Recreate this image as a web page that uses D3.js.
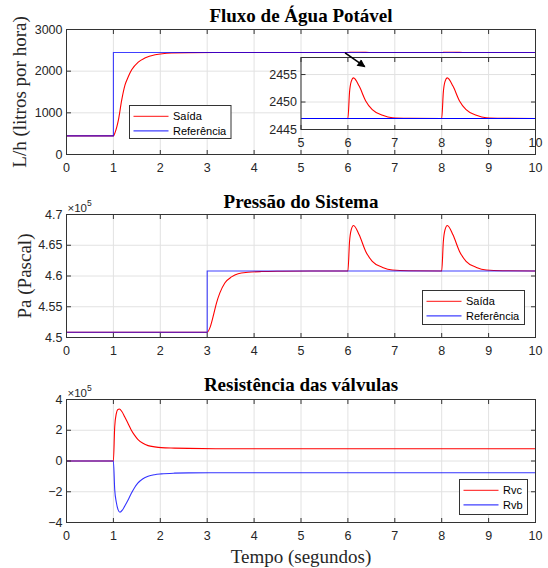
<!DOCTYPE html>
<html>
<head>
<meta charset="utf-8">
<script src="https://cdn.jsdelivr.net/npm/d3@7"></script>
<style>
    body { margin: 0; background: #fff; }
    svg { display: block; }
</style>
</head>
<body>
<svg id="chart" width="548" height="568"></svg>
<script>
// shared time axis
const timeTicks = [0, 1, 2, 3, 4, 5, 6, 7, 8, 9, 10];

// Fluxo de Água Potável (L/h)
const flowTicks = [0, 1000, 2000, 3000];
const flowRefT = [0, 1, 1, 10];
const flowRefV = [447, 447, 2447, 2447];
const flowOutT = [0, 1, 1.035, 1.106, 1.177, 1.248, 1.319, 1.39, 1.53, 1.67, 1.89, 2.24, 2.6, 3.2,
    6, 6.035, 6.07, 6.12, 6.24, 6.38, 6.52, 6.74, 6.95, 7.3,
    8, 8.035, 8.07, 8.12, 8.24, 8.38, 8.52, 8.74, 8.95, 9.3, 10];
const flowOutV = [447, 447, 525, 823, 1306, 1669, 1871, 2032, 2218, 2315, 2395, 2437, 2445, 2447,
    2447, 2451.8, 2453.7, 2454.4, 2452.9, 2450.2, 2448.6, 2447.6, 2447.15, 2447.05,
    2447, 2451.8, 2453.7, 2454.4, 2452.9, 2450.2, 2448.6, 2447.6, 2447.15, 2447.05, 2447];

// zoom inset
const insetTimeTicks = [5, 6, 7, 8, 9, 10];
const insetFlowTicks = [2445, 2450, 2455];

// Pressão do Sistema (x1e5 Pa)
const pressTicks = [4.5, 4.55, 4.6, 4.65, 4.7];
const pressRefT = [0, 3, 3, 10];
const pressRefV = [4.5086, 4.5086, 4.6082, 4.6082];
const pressOutT = [0, 3, 3.057, 3.128, 3.199, 3.27, 3.376, 3.518, 3.66, 3.87, 4.16, 4.6, 5.2, 6,
    6.035, 6.07, 6.12, 6.24, 6.38, 6.52, 6.74, 6.95, 7.3, 8,
    8.035, 8.07, 8.12, 8.24, 8.38, 8.52, 8.74, 8.95, 9.3, 10];
const pressOutV = [4.5086, 4.5086, 4.5157, 4.5346, 4.5563, 4.5725, 4.5887, 4.5985, 4.6038, 4.6060, 4.6072, 4.6078, 4.6082, 4.6082,
    4.656, 4.675, 4.6822, 4.667, 4.640, 4.6238, 4.614, 4.6098, 4.6086, 4.6082,
    4.656, 4.675, 4.6822, 4.667, 4.640, 4.6238, 4.614, 4.6098, 4.6086, 4.6082];

// Resistência das válvulas (x1e5)
const resTicks = [-4, -2, 0, 2, 4];
const rvcT = [0, 1, 1.028, 1.063, 1.095, 1.126, 1.18, 1.24, 1.31, 1.38, 1.45, 1.52, 1.63, 1.74, 1.88, 2.02, 2.3, 2.6, 3.4, 10];
const rvcV = [0, 0, 2.23, 3.10, 3.35, 3.38, 3.22, 2.88, 2.45, 2.02, 1.68, 1.41, 1.15, 1.00, 0.92, 0.87, 0.84, 0.82, 0.80, 0.80];
const rvbT = [0, 1, 1.028, 1.063, 1.099, 1.14, 1.19, 1.24, 1.31, 1.38, 1.45, 1.52, 1.63, 1.74, 1.88, 2.02, 2.3, 2.6, 3.4, 10];
const rvbV = [0, 0, -1.86, -2.7, -3.16, -3.33, -3.2, -2.94, -2.55, -2.12, -1.74, -1.44, -1.15, -0.99, -0.89, -0.84, -0.79, -0.77, -0.76, -0.76];

const SANS = "'Liberation Sans', Arial, Helvetica, sans-serif";
const SERIF = "'Liberation Serif', 'Times New Roman', serif";
const AXIS = "#333";
const RED = "#ff0000", BLUE = "#0000ff";

const svg = d3.select("#chart");
svg.append("rect").attr("width", 548).attr("height", 568).attr("fill", "#fff");

const zip = (ts, vs) => ts.map((t, i) => [t, vs[i]]);
const fmtInt = d3.format("d");
let clipId = 0;

function frame(g, x, y, xTicks, yTicks, yFmt, series) {
    const [x0, x1] = x.range();
    const [yb, yt] = y.range();

    g.append("rect")
        .attr("x", x0).attr("y", yt)
        .attr("width", x1 - x0).attr("height", yb - yt)
        .attr("fill", "#fff");

    // grid
    const gx = g.append("g")
        .attr("transform", `translate(0,${yb})`)
        .call(d3.axisBottom(x).tickValues(xTicks).tickSize(-(yb - yt)).tickFormat("").offset(0));
    const gy = g.append("g")
        .attr("transform", `translate(${x0},0)`)
        .call(d3.axisLeft(y).tickValues(yTicks).tickSize(-(x1 - x0)).tickFormat("").offset(0));
    [gx, gy].forEach(a => {
        a.select(".domain").remove();
        a.selectAll("line").attr("stroke", "#e2e2e2");
    });

    const id = "clip" + (clipId++);
    g.append("clipPath").attr("id", id)
        .append("rect")
            .attr("x", x0).attr("y", yt)
            .attr("width", x1 - x0).attr("height", yb - yt);

    const lines = g.append("g").attr("clip-path", `url(#${id})`);
    series.forEach(s => {
        lines.append("path")
            .attr("d", d3.line()
                .x(d => x(d[0]))
                .y(d => y(d[1]))
                .curve(s.step ? d3.curveLinear : d3.curveMonotoneX)(s.data))
            .attr("fill", "none")
            .attr("stroke", s.color)
            .attr("stroke-opacity", s.opacity || 1)
            .attr("stroke-width", 1.1);
    });

    const axes = [
        g.append("g").attr("transform", `translate(0,${yb})`)
            .call(d3.axisBottom(x).tickValues(xTicks).tickSize(-4.5).tickPadding(9).tickFormat(fmtInt).offset(0)),
        g.append("g").attr("transform", `translate(0,${yt})`)
            .call(d3.axisTop(x).tickValues(xTicks).tickSize(-4.5).tickFormat("").offset(0)),
        g.append("g").attr("transform", `translate(${x0},0)`)
            .call(d3.axisLeft(y).tickValues(yTicks).tickSize(-4.5).tickPadding(4).tickFormat(yFmt).offset(0)),
        g.append("g").attr("transform", `translate(${x1},0)`)
            .call(d3.axisRight(y).tickValues(yTicks).tickSize(-4.5).tickFormat("").offset(0)),
    ];
    axes.forEach(a => {
        a.select(".domain").remove();
        a.attr("font-family", SANS).attr("font-size", 12.5);
        a.selectAll("line").attr("stroke", AXIS);
        a.selectAll("text").attr("fill", "#262626");
    });

    g.append("rect")
        .attr("x", x0).attr("y", yt)
        .attr("width", x1 - x0).attr("height", yb - yt)
        .attr("fill", "none")
        .attr("stroke", AXIS);
}

function title(text, x, y) {
    svg.append("text")
        .attr("x", x).attr("y", y)
        .attr("text-anchor", "middle")
        .attr("font-family", SERIF)
        .attr("font-weight", "bold")
        .attr("font-size", 19)
        .attr("fill", "#000")
        .text(text);
}

function ylabel(text, x, y) {
    svg.append("text")
        .attr("transform", `translate(${x},${y}) rotate(-90)`)
        .attr("text-anchor", "middle")
        .attr("font-family", SERIF)
        .attr("font-size", 19)
        .attr("fill", "#262626")
        .text(text);
}

function exponent(x, y) {
    const t = svg.append("text")
        .attr("x", x).attr("y", y)
        .attr("font-family", SANS)
        .attr("font-size", 11.5)
        .attr("fill", "#262626");
    t.append("tspan").text("×10");
    t.append("tspan").attr("dy", -6.5).attr("font-size", 8.5).text("5");
}

function legend(box, items) {
    const lg = svg.append("g").attr("transform", `translate(${box.x},${box.y})`);
    lg.append("rect")
        .attr("width", box.w).attr("height", box.h)
        .attr("fill", "#fff")
        .attr("stroke", AXIS);
    items.forEach((it, i) => {
        const cy = 10.8 + i * 14.6;
        lg.append("line")
            .attr("x1", 4).attr("x2", 39)
            .attr("y1", cy).attr("y2", cy)
            .attr("stroke", it.color)
            .attr("stroke-opacity", 0.75)
            .attr("stroke-width", 1.3);
        lg.append("text")
            .attr("x", 43.5).attr("y", cy)
            .attr("dy", "0.35em")
            .attr("font-family", SANS)
            .attr("font-size", 11)
            .attr("fill", "#000")
            .text(it.label);
    });
}

const left = 66.5, right = 535.5;
const x = d3.scaleLinear().domain([0, 10]).range([left, right]);

// --- panel 1
const g1 = svg.append("g");
const y1 = d3.scaleLinear().domain([0, 3000]).range([154.5, 29.5]);
frame(g1, x, y1, timeTicks, flowTicks, fmtInt, [
    { data: zip(flowOutT, flowOutV), color: RED },
    { data: zip(flowRefT, flowRefV), color: BLUE, step: true, opacity: 0.75 },
]);
title("Fluxo de Água Potável", (left + right) / 2, 22);
ylabel("L/h (litros por hora)", 26, 92);
legend({ x: 129.5, y: 105.5, w: 101.5, h: 33 }, [
    { label: "Saída", color: RED },
    { label: "Referência", color: BLUE },
]);

// inset
const gi = svg.append("g");
const xi = d3.scaleLinear().domain([5, 10]).range([x(5), right]);
const yi = d3.scaleLinear().domain([2445, 2458.1]).range([129.5, 57.5]);
frame(gi, xi, yi, insetTimeTicks, insetFlowTicks, fmtInt, [
    { data: zip(flowOutT, flowOutV), color: RED },
    { data: zip(flowRefT, flowRefV), color: BLUE, step: true },
]);

// arrow pointing into the inset
svg.append("defs").append("marker")
    .attr("id", "head")
    .attr("viewBox", "0 0 10 10")
    .attr("refX", 9).attr("refY", 5)
    .attr("markerUnits", "userSpaceOnUse")
    .attr("markerWidth", 9).attr("markerHeight", 8)
    .attr("orient", "auto")
    .append("path")
        .attr("d", "M0,0L10,5L0,10Z")
        .attr("fill", "#000");
svg.append("line")
    .attr("x1", x(5.94)).attr("y1", y1(2440))
    .attr("x2", x(6.36)).attr("y2", y1(2107))
    .attr("stroke", "#000")
    .attr("stroke-width", 1.6)
    .attr("marker-end", "url(#head)");

// --- panel 2
const g2 = svg.append("g");
const y2 = d3.scaleLinear().domain([4.5, 4.7]).range([337.5, 214.5]);
frame(g2, x, y2, timeTicks, pressTicks, d3.format(""), [
    { data: zip(pressOutT, pressOutV), color: RED },
    { data: zip(pressRefT, pressRefV), color: BLUE, step: true, opacity: 0.75 },
]);
title("Pressão do Sistema", (left + right) / 2, 207.5);
exponent(left + 1, 212.3);
ylabel("Pa (Pascal)", 30.5, 276);
legend({ x: 422.5, y: 290.5, w: 102, h: 34 }, [
    { label: "Saída", color: RED },
    { label: "Referência", color: BLUE },
]);

// --- panel 3
const g3 = svg.append("g");
const y3 = d3.scaleLinear().domain([-4, 4]).range([522.5, 399.5]);
frame(g3, x, y3, timeTicks, resTicks, fmtInt, [
    { data: zip(rvcT, rvcV), color: RED },
    { data: zip(rvbT, rvbV), color: BLUE, opacity: 0.8 },
]);
title("Resistência das válvulas", (left + right) / 2, 391);
exponent(left + 1, 397.3);
legend({ x: 459.5, y: 479.5, w: 68, h: 35 }, [
    { label: "Rvc", color: RED },
    { label: "Rvb", color: BLUE },
]);

svg.append("text")
    .attr("x", (left + right) / 2).attr("y", 562.5)
    .attr("text-anchor", "middle")
    .attr("font-family", SERIF)
    .attr("font-size", 19)
    .attr("fill", "#262626")
    .text("Tempo (segundos)");
</script>
</body>
</html>
